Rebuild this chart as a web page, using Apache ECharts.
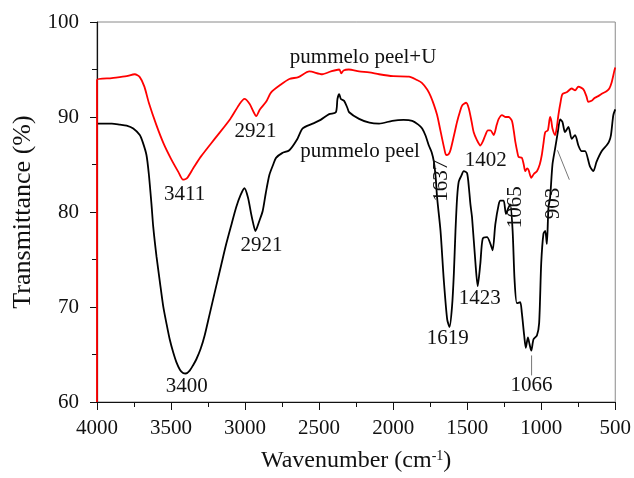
<!DOCTYPE html>
<html>
<head>
<meta charset="utf-8">
<script src="https://cdn.jsdelivr.net/npm/echarts@6/dist/echarts.min.js"></script>
<style>
    html, body { margin: 0; padding: 0; background: #fff; }
    #chart { width: 634px; height: 478px; }
</style>
</head>
<body>
<div id="chart"></div>
<script>
// pummelo peel+U (red)
var redWn = [4000, 4000, 3900, 3800, 3745, 3711, 3680, 3650, 3600, 3550, 3500, 3450, 3419, 3390, 3350, 3300, 3200, 3100, 3040, 3004,
    2970, 2945, 2925, 2900, 2858, 2824, 2760, 2701, 2640, 2566, 2479, 2420, 2364, 2350, 2335, 2300, 2230, 2162, 2095, 2000,
    1893, 1840, 1806, 1770, 1747, 1725, 1703, 1685, 1669, 1655, 1642, 1625, 1613, 1590, 1568, 1550, 1534, 1507, 1489, 1470,
    1456, 1435, 1411, 1395, 1377, 1360, 1343, 1321, 1300, 1287, 1265, 1240, 1220, 1198, 1185, 1175, 1160, 1153, 1131, 1118,
    1108, 1095, 1085, 1067, 1050, 1029, 1010, 996, 985, 973, 955, 940, 932, 924, 906, 895, 884, 870, 857, 828,
    794, 771, 749, 715, 695, 682, 660, 640, 615, 585, 559, 540, 525, 507, 500];
var redT = [60, 93.9, 94.1, 94.3, 94.5, 94.2, 93.2, 91.5, 89.2, 87.2, 85.6, 84.2, 83.4, 83.6, 84.6, 85.8, 87.8, 89.8, 91.3, 91.9,
    91.4, 90.6, 90.1, 90.8, 91.6, 92.6, 93.4, 94.0, 94.2, 94.8, 94.5, 94.8, 95.0, 94.6, 94.9, 95.0, 94.8, 94.7, 94.5, 94.3,
    94.25, 93.9, 93.6, 92.9, 92.2, 91.3, 90.2, 88.9, 87.7, 86.7, 86.0, 86.1, 86.5, 88.0, 89.5, 90.5, 91.2, 91.5, 90.9, 89.5,
    88.4, 87.6, 87.0, 87.4, 88.1, 88.6, 88.6, 88.1, 89.2, 89.8, 90.2, 90.0, 90.0, 89.6, 88.5, 87.4, 86.2, 85.8, 85.7, 85.0,
    84.3, 84.6, 84.4, 83.6, 84.0, 84.3, 85.0, 86.0, 87.2, 88.4, 88.6, 90.0, 89.6, 88.8, 88.1, 88.9, 90.2, 91.5, 92.4, 92.6,
    93.0, 92.8, 93.2, 92.9, 92.2, 91.6, 91.7, 92.0, 92.2, 92.5, 92.7, 93.0, 93.6, 94.8, 95.2];

// pummelo peel (black)
var blackWn = [4000, 3900, 3845, 3800, 3755, 3711, 3690, 3666, 3650, 3632, 3620, 3598, 3575, 3553, 3530, 3509, 3485, 3464, 3440, 3419,
    3400, 3374, 3350, 3329, 3300, 3273, 3240, 3195, 3160, 3127, 3090, 3060, 3030, 3004, 2980, 2959, 2945, 2930, 2905, 2881,
    2860, 2836, 2810, 2791, 2750, 2701, 2650, 2611, 2544, 2490, 2432, 2387, 2376, 2364, 2353, 2331, 2310, 2297, 2230, 2160,
    2095, 2006, 1930, 1871, 1830, 1804, 1780, 1759, 1740, 1725, 1712, 1703, 1680, 1658, 1635, 1619, 1602, 1590, 1579, 1568,
    1557, 1540, 1523, 1501, 1488, 1478, 1467, 1444, 1429, 1411, 1395, 1366, 1343, 1328, 1310, 1287, 1276, 1254, 1238, 1220,
    1209, 1193, 1180, 1164, 1142, 1131, 1115, 1104, 1090, 1079, 1067, 1052, 1029, 1014, 1000, 985, 973, 962, 951, 940,
    924, 906, 888, 872, 857, 839, 816, 794, 771, 749, 727, 704, 671, 648, 626, 592, 559, 542, 529, 513, 500];
var blackT = [89.3, 89.3, 89.2, 89.1, 88.8, 88.1, 87.3, 86.0, 84.0, 80.8, 78.4, 75.3, 72.6, 70.1, 68.2, 66.6, 65.2, 64.2, 63.4, 63.05,
    63.0, 63.3, 63.9, 64.5, 65.6, 67.0, 69.2, 72.2, 74.5, 76.65, 78.8, 80.5, 81.8, 82.5, 81.5, 79.8, 78.8, 78.0, 79.0, 80.1,
    82.0, 83.9, 85.0, 85.7, 86.2, 86.5, 87.6, 88.8, 89.3, 89.7, 90.3, 90.5, 91.9, 92.4, 91.9, 91.7, 91.0, 90.5, 89.8, 89.4,
    89.3, 89.6, 89.7, 89.6, 89.2, 88.8, 88.0, 87.0, 86.3, 85.3, 83.5, 81.5, 78.0, 72.85, 68.7, 67.9, 70.1, 73.5, 78.0, 81.5,
    83.2, 83.8, 84.3, 84.1, 82.5, 80.8, 79.4, 74.6, 72.2, 74.6, 77.2, 77.35, 76.65, 75.97, 78.7, 80.8, 81.2, 81.2, 79.8, 80.5,
    80.8, 78.0, 72.85, 70.4, 70.5, 69.4, 67.0, 65.7, 66.8, 66.1, 65.4, 66.6, 67.0, 68.3, 74.6, 77.7, 78.0, 76.65, 80.5, 81.5,
    85.0, 86.7, 88.4, 89.75, 89.5, 88.4, 88.96, 87.7, 88.1, 87.0, 86.4, 86.4, 84.8, 84.3, 85.3, 86.4, 87.0, 87.4, 88.1, 90.2, 90.8];

// peak labels: text, wavenumber, transmittance, rotated
var labelText = ['pummelo peel+U', '2921', '3411', 'pummelo peel', '1637', '1402', '1065', '903', '2921', '3400', '1619', '1423', '1066'];
var labelWn = [2203, 2930, 3408, 2223, 1671, 1375, 1173, 917, 2889, 3394, 1631, 1415, 1065];
var labelT = [96.3, 88.5, 81.8, 86.4, 83.3, 85.45, 80.5, 80.9, 76.5, 61.6, 66.65, 70.9, 61.7];
var labelRot = [0, 0, 0, 0, 1, 0, 1, 1, 0, 0, 0, 0, 0];

// leader lines: [wn1, t1, wn2, t2]
var leaders = [[890, 86.5, 810, 83.4], [1065, 64.9, 1065, 62.8]];

var xTicks = [4000, 3500, 3000, 2500, 2000, 1500, 1000, 500];
var yTicks = [60, 70, 80, 90, 100];

function pairs(xs, ys) {
    var out = [];
    for (var i = 0; i < xs.length; i++) {
        out.push([xs[i], ys[i]]);
    }
    return out;
}

var font = 'Liberation Serif';
var chart = echarts.init(document.getElementById('chart'));
var option = {
    animation: false,
    grid: {
        left: 97,
        right: 17,
        top: 22,
        bottom: 71,
        show: true,
        borderColor: '#8a8a8a',
        borderWidth: 1
    },
    xAxis: {
        type: 'value',
        inverse: true,
        min: xTicks[xTicks.length - 1],
        max: xTicks[0],
        interval: 500,
        name: '{a|Wavenumber (cm}{s|-1}{a|)}',
        nameLocation: 'middle',
        nameGap: 47,
        nameTextStyle: {
            rich: {
                a: { fontFamily: font, fontSize: 24, color: '#111' },
                s: { fontFamily: font, fontSize: 14, color: '#111', verticalAlign: 'top', padding: [0, 0, 10, 0] }
            }
        },
        axisLine: { lineStyle: { color: '#111', width: 1.2 } },
        axisTick: { inside: false, length: 8, lineStyle: { color: '#111' } },
        minorTick: { show: true, splitNumber: 2, length: 5, lineStyle: { color: '#111' } },
        splitLine: { show: false },
        axisLabel: {
            fontFamily: font, fontSize: 21, color: '#111', margin: 16,
            formatter: function (v) { return String(v); }
        }
    },
    yAxis: {
        type: 'value',
        min: yTicks[0],
        max: yTicks[yTicks.length - 1],
        interval: 10,
        name: 'Transmittance (%)',
        nameLocation: 'middle',
        nameGap: 58,
        nameTextStyle: { fontFamily: font, fontSize: 26, color: '#111' },
        axisLine: { lineStyle: { color: '#111', width: 1.2 } },
        axisTick: { inside: false, length: 7, lineStyle: { color: '#111' } },
        minorTick: { show: true, splitNumber: 2, length: 5, lineStyle: { color: '#111' } },
        splitLine: { show: false },
        axisLabel: {
            fontFamily: font, fontSize: 21, color: '#111', margin: 18,
            formatter: function (v) { return String(v); }
        }
    },
    series: [{
        name: 'pummelo peel',
        type: 'line',
        showSymbol: false,
        smooth: 0.25,
        lineStyle: { color: '#000', width: 1.8 },
        data: pairs(blackWn, blackT)
    }, {
        name: 'pummelo peel+U',
        type: 'line',
        showSymbol: false,
        smooth: 0.25,
        lineStyle: { color: '#ff0000', width: 1.8 },
        data: pairs(redWn, redT)
    }]
};
chart.setOption(option);

// annotations placed through the chart's own scales
var graphics = [];
for (var i = 0; i < labelText.length; i++) {
    var p = chart.convertToPixel({ gridIndex: 0 }, [labelWn[i], labelT[i]]);
    graphics.push({
        type: 'text',
        x: p[0],
        y: p[1],
        rotation: labelRot[i] ? Math.PI / 2 : 0,
        style: {
            text: labelText[i],
            fontFamily: font,
            fontSize: 21,
            fill: '#111',
            align: 'center',
            verticalAlign: 'middle'
        },
        z: 10
    });
}
for (var j = 0; j < leaders.length; j++) {
    var a = chart.convertToPixel({ gridIndex: 0 }, [leaders[j][0], leaders[j][1]]);
    var b = chart.convertToPixel({ gridIndex: 0 }, [leaders[j][2], leaders[j][3]]);
    graphics.push({
        type: 'line',
        shape: { x1: a[0], y1: a[1], x2: b[0], y2: b[1] },
        style: { stroke: '#777', lineWidth: 1 },
        z: 10
    });
}
chart.setOption({ graphic: graphics });
</script>
</body>
</html>
